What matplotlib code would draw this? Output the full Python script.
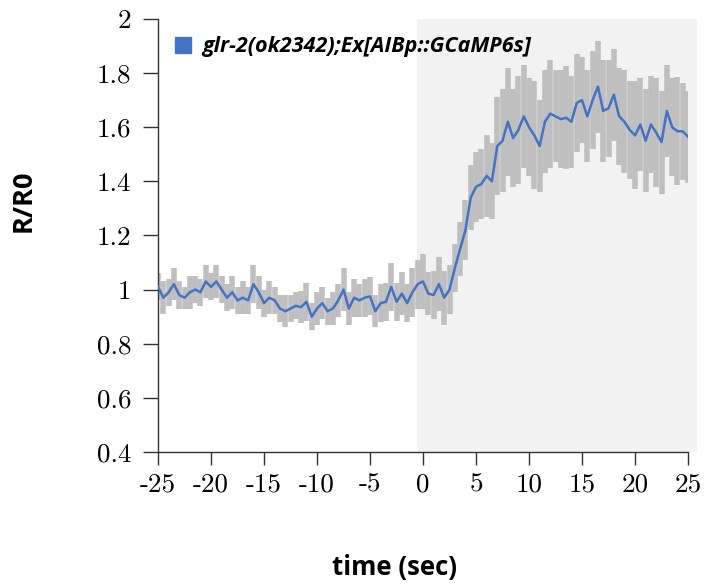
import numpy as np
import matplotlib
matplotlib.use("Agg")
import matplotlib.pyplot as plt
from matplotlib.patches import Patch

# time axis, 0.5 s steps from -25 to 25
time = np.arange(-25, 25.01, 0.5)

ratio = [1.01, 0.97, 0.99, 1.02, 0.98, 0.97, 0.99, 1.00, 0.99, 1.03,
         1.01, 1.03, 1.00, 0.97, 0.99, 0.96, 0.97, 0.96, 1.02, 0.99,
         0.95, 0.97, 0.96, 0.93, 0.92, 0.93, 0.94, 0.935, 0.955, 0.90,
         0.93, 0.95, 0.92, 0.93, 0.96, 1.00, 0.93, 0.97, 0.96, 0.97,
         0.975, 0.92, 0.95, 0.955, 1.01, 0.955, 0.985, 0.95, 0.99, 1.02,
         1.03, 0.985, 0.98, 1.02, 0.97, 1.00, 1.08, 1.15, 1.22, 1.34,
         1.38, 1.39, 1.42, 1.40, 1.53, 1.55, 1.62, 1.56, 1.59, 1.64,
         1.60, 1.57, 1.53, 1.62, 1.65, 1.64, 1.63, 1.635, 1.62, 1.69,
         1.70, 1.64, 1.70, 1.75, 1.66, 1.67, 1.72, 1.64, 1.62, 1.59,
         1.57, 1.61, 1.55, 1.61, 1.58, 1.545, 1.66, 1.60, 1.585, 1.585,
         1.565]

err = [0.05, 0.06, 0.05, 0.06, 0.05, 0.04, 0.06, 0.05, 0.05, 0.06,
       0.05, 0.06, 0.05, 0.05, 0.06, 0.05, 0.06, 0.05, 0.07, 0.06,
       0.05, 0.06, 0.05, 0.05, 0.06, 0.05, 0.05, 0.06, 0.07, 0.05,
       0.06, 0.06, 0.05, 0.06, 0.06, 0.08, 0.06, 0.07, 0.06, 0.07,
       0.07, 0.06, 0.07, 0.07, 0.09, 0.07, 0.08, 0.07, 0.09, 0.09,
       0.10, 0.08, 0.09, 0.10, 0.10, 0.09, 0.09, 0.10, 0.11, 0.12,
       0.13, 0.13, 0.15, 0.14, 0.18, 0.19, 0.20, 0.18, 0.20, 0.19,
       0.18, 0.20, 0.17, 0.19, 0.20, 0.17, 0.18, 0.19, 0.17, 0.18,
       0.16, 0.17, 0.18, 0.17, 0.19, 0.18, 0.17, 0.18, 0.19, 0.18,
       0.20, 0.17, 0.19, 0.18, 0.20, 0.19, 0.17, 0.18, 0.20, 0.18,
       0.17]

xticks = [-25, -20, -15, -10, -5, 0, 5, 10, 15, 20, 25]
xtick_labels = ['-25', '-20', '-15', '-10', '-5', '0', '5', '10', '15', '20', '25']
yticks = [0.4, 0.6, 0.8, 1.0, 1.2, 1.4, 1.6, 1.8, 2.0]
ytick_labels = ['0.4', '0.6', '0.8', '1', '1.2', '1.4', '1.6', '1.8', '2']

stim_start, stim_end = -0.55, 25.85
label = 'glr-2(ok2342);Ex[AIBp::GCaMP6s]'

blue = '#4472C4'
grey = '#BFBFBF'

fig = plt.figure(figsize=(7.08, 5.85), dpi=100)
ax = fig.add_axes([0.2232, 0.2274, 0.7486, 0.7402])

ax.axvspan(stim_start, stim_end, ymin=0, ymax=1, color='#F2F2F2', lw=0, clip_on=False, zorder=0)
ax.errorbar(time, ratio, yerr=err, fmt='none', ecolor=grey, elinewidth=4.0, capsize=0, zorder=2)
ax.plot(time, ratio, color=blue, lw=1.8, zorder=3)

ax.set_xlim(-25, 25)
ax.set_ylim(0.4, 2.0)
ax.set_xticks(xticks)
ax.set_xticklabels(xtick_labels, family='cmr10', fontsize=19.5)
ax.set_yticks(yticks)
ax.set_yticklabels(ytick_labels, family='cmr10', fontsize=19.5)
ax.tick_params(axis='y', length=11, width=1, pad=8, color='#333333')
ax.tick_params(axis='x', length=9, width=1, pad=6, color='#333333')

for s in ['top', 'right']:
    ax.spines[s].set_visible(False)
for s in ['left', 'bottom']:
    ax.spines[s].set_color('#333333')
    ax.spines[s].set_linewidth(1)

ax.set_xlabel('time (sec)', family='Open Sans', fontweight='bold', fontsize=18.5, va='center')
ax.set_ylabel('R/R0', family='Open Sans', fontweight='bold', fontsize=19.5, va='center')
ax.xaxis.set_label_coords(0.447, -0.266)
ax.yaxis.set_label_coords(-0.253, 0.58)

ax.legend(handles=[Patch(color=blue, label=label)], loc='upper left',
          bbox_to_anchor=(0.0, 1.0), frameon=False, handlelength=0.75, handleheight=0.75,
          handletextpad=0.5, borderpad=0.3,
          prop={'family': 'Open Sans', 'weight': 'bold', 'style': 'italic', 'size': 15.5})

fig.savefig('out.png', dpi=100)
